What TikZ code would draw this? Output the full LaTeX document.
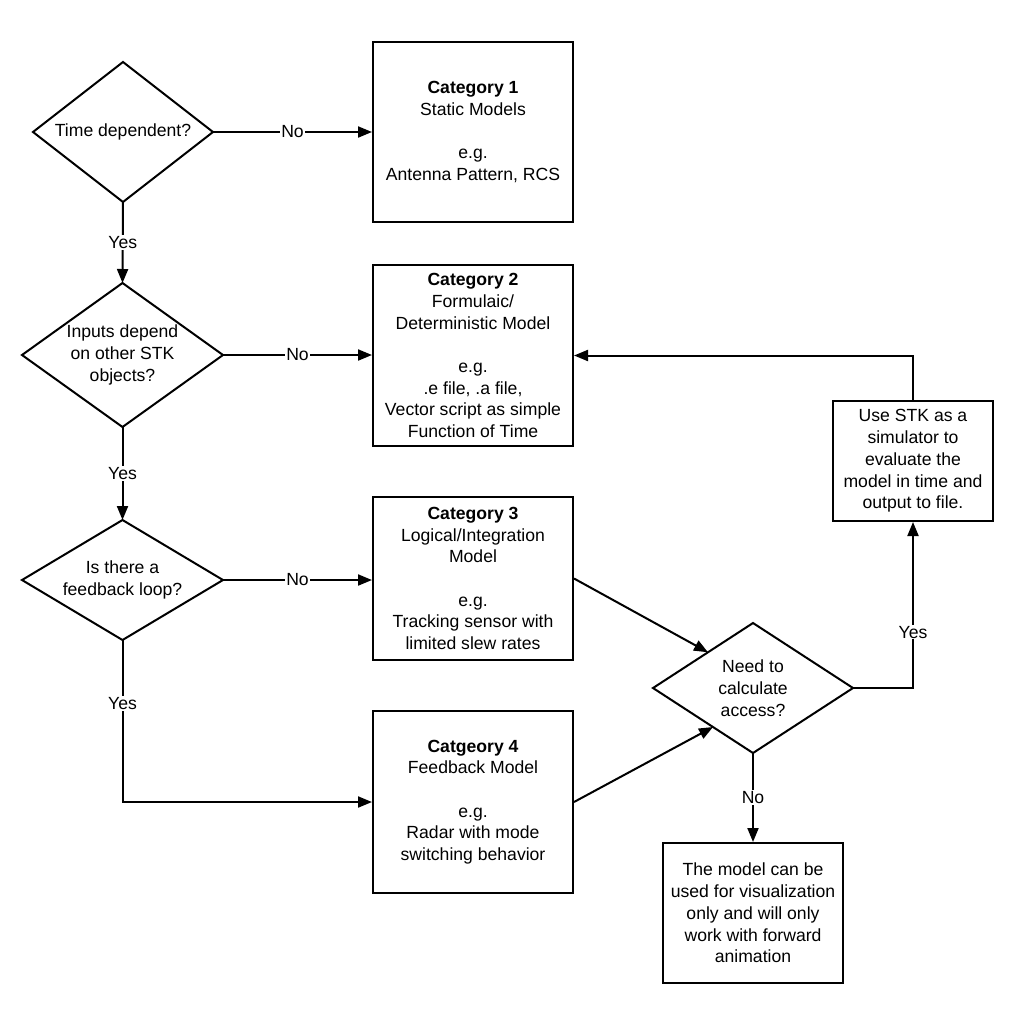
\documentclass[tikz,border=0pt]{standalone}
\usepackage{fontspec}
\setmainfont{Liberation Sans}
\usetikzlibrary{arrows.meta,calc}
\newcommand\mydiam[6]{%
 \node (#1) at (#2,#3) {#6};
 \coordinate (#1-n) at (#2,{#3-#5});
 \coordinate (#1-s) at (#2,{#3+#5});
 \coordinate (#1-e) at ({#2+#4},#3);
 \coordinate (#1-w) at ({#2-#4},#3);
 \draw[plain, line join=miter] (#1-n) -- (#1-e) -- (#1-s) -- (#1-w) -- cycle;
}
\begin{document}
\begin{tikzpicture}[x=1pt,y=-1pt,
 every node/.style={font=\fontsize{17.6}{21.7}\selectfont, align=center},
 box/.style={draw, line width=2pt, inner sep=0pt},
 conn/.style={line width=2pt, -{Triangle[length=14pt,width=11pt]}},
 plain/.style={line width=2pt},
 lab/.style={fill=white, inner sep=1pt}]
\path[use as bounding box] (0,0) rectangle (1035,1029);

% diamonds
\mydiam{d1}{123}{132}{90}{70}{Time dependent?}
\mydiam{d2}{122.5}{355}{100.5}{72}{Inputs depend\\on other STK\\objects?}
\mydiam{d3}{122.5}{580}{100.5}{60}{Is there a\\feedback loop?}
\mydiam{d4}{753}{688}{100}{65}{Need to\\calculate\\access?}

% boxes
\node[box, minimum width=200pt, minimum height=180pt] (b1) at (473,132) {\textbf{Category 1}\\Static Models\\[21.7pt]e.g.\\Antenna Pattern, RCS};
\node[box, minimum width=200pt, minimum height=181pt] (b2) at (473,355.5) {\textbf{Category 2}\\Formulaic/\\Deterministic Model\\[21.7pt]e.g.\\.e file, .a file,\\Vector script as simple\\Function of Time};
\node[box, minimum width=200pt, minimum height=163pt] (b3) at (473,578.5) {\textbf{Category 3}\\Logical/Integration\\Model\\[21.7pt]e.g.\\Tracking sensor with\\limited slew rates};
\node[box, minimum width=200pt, minimum height=182pt] (b4) at (473,802) {\textbf{Catgeory 4}\\Feedback Model\\[21.7pt]e.g.\\Radar with mode\\switching behavior};
\node[box, minimum width=160pt, minimum height=120pt] (b6) at (913,461) {Use STK as a\\simulator to\\evaluate the\\model in time and\\output to file.};
\node[box, minimum width=180pt, minimum height=140pt] (b7) at (753,913) {The model can be\\used for visualization\\only and will only\\work with forward\\animation};

% connectors
\draw[conn] (d1-e) -- node[lab]{No} (d1-e -| b1.west);
\draw[conn] (d2-e) -- node[lab]{No} (d2-e -| b2.west);
\draw[conn] (d3-e) -- node[lab]{No} (d3-e -| b3.west);
\draw[conn] (d1-s) -- node[lab]{Yes} (d2-n);
\draw[conn] (d2-s) -- node[lab]{Yes} (d3-n);
\draw[conn] (d3-s) |- node[lab, pos=0.196]{Yes} (b4.west);
\draw[conn] (b3.east) -- ($(d4-w)!0.55!(d4-n)$);
\draw[conn] (b4.east) -- ($(d4-w)!0.6!(d4-s)$);
\draw[conn] (d4-e) -| node[lab, pos=0.668]{Yes} (b6.south);
\draw[conn] (b6.north) |- (b2.east);
\draw[conn] (d4-s) -- node[lab]{No} (b7.north);
\end{tikzpicture}
\end{document}
